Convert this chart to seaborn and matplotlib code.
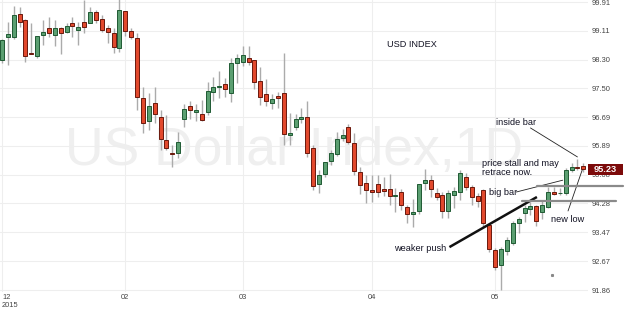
import numpy as np
import pandas as pd
import matplotlib
matplotlib.use("Agg")
import matplotlib.pyplot as plt
from matplotlib.patches import Rectangle
import seaborn as sns

# ---------------- data ----------------
opens = [
    98.29, 98.93, 98.93, 99.57, 99.41, 98.49, 98.40, 98.99, 99.18, 98.99,
    99.18, 99.07, 99.32, 99.13, 99.35, 99.32, 99.63, 99.43, 99.18, 99.04,
    98.62, 99.66, 99.10, 98.90, 97.23, 96.58, 97.09, 96.70, 96.05, 95.69,
    95.69, 96.64, 97.00, 96.84, 96.78, 96.84, 97.39, 97.53, 97.62, 97.37,
    98.21, 98.23, 98.35, 98.29, 97.70, 97.34, 97.09, 97.28, 97.37, 96.19,
    96.42, 96.64, 96.70, 95.83, 94.82, 95.10, 95.47, 95.66, 96.11, 96.42,
    95.97, 95.16, 94.85, 94.66, 94.82, 94.68, 94.68, 94.49, 94.60, 94.18,
    93.99, 94.07, 94.85, 94.93, 94.57, 94.52, 94.07, 94.52, 94.60, 95.02,
    94.74, 94.49, 94.66, 93.68, 92.98, 92.56, 92.95, 93.17, 93.73, 94.01,
    94.12, 94.21, 94.04, 94.18, 94.60, 94.56, 94.57, 95.21, 95.30, 95.32,
]
highs = [
    98.88, 99.35, 99.80, 99.77, 99.43, 99.32, 98.97, 99.41, 99.49, 99.41,
    99.21, 99.32, 99.49, 99.35, 99.97, 99.77, 99.69, 99.55, 99.27, 99.18,
    100.00, 99.67, 99.18, 99.04, 97.53, 97.37, 97.53, 96.89, 96.75, 95.91,
    96.28, 97.06, 97.14, 97.06, 97.17, 97.67, 97.81, 97.98, 97.79, 98.35,
    98.46, 98.68, 98.68, 98.30, 98.09, 97.76, 97.34, 97.39, 98.48, 96.81,
    96.78, 96.95, 97.14, 95.91, 95.21, 95.45, 95.77, 96.28, 96.36, 96.50,
    96.25, 95.30, 95.07, 95.07, 95.07, 95.02, 95.10, 94.71, 94.68, 94.24,
    94.40, 94.83, 95.24, 95.07, 94.71, 94.60, 94.66, 94.74, 95.21, 95.13,
    94.79, 94.57, 94.67, 93.69, 93.03, 93.06, 93.34, 93.79, 93.90, 94.24,
    94.32, 94.24, 94.38, 94.74, 94.74, 94.71, 95.27, 95.41, 95.52, 95.41,
]
lows = [
    98.20, 98.15, 98.88, 99.21, 98.23, 98.46, 98.35, 98.71, 98.93, 98.68,
    98.46, 99.04, 98.93, 98.71, 99.04, 99.32, 99.32, 99.07, 98.76, 98.48,
    98.51, 98.96, 98.88, 96.89, 96.25, 96.33, 96.53, 95.77, 95.77, 95.30,
    95.55, 96.42, 96.64, 96.58, 96.58, 96.75, 97.14, 97.23, 97.25, 97.11,
    97.65, 98.12, 98.15, 97.48, 97.03, 97.00, 96.92, 96.95, 95.91, 95.91,
    96.33, 96.53, 95.58, 94.66, 94.57, 95.02, 95.35, 95.61, 96.02, 95.94,
    95.07, 94.54, 94.29, 94.32, 94.46, 94.49, 94.24, 94.04, 94.10, 93.73,
    93.62, 93.99, 94.66, 94.46, 94.38, 93.87, 93.87, 94.15, 94.38, 94.66,
    94.24, 94.18, 93.62, 92.92, 92.42, 91.86, 92.84, 93.12, 93.45, 93.76,
    93.96, 93.65, 93.85, 94.15, 94.52, 94.52, 94.52, 95.16, 95.21, 95.16,
]
closes = [
    98.85, 99.02, 99.55, 99.35, 98.40, 98.47, 98.96, 99.07, 99.04, 99.18,
    99.04, 99.24, 99.24, 99.21, 99.21, 99.63, 99.41, 99.13, 99.07, 98.65,
    99.69, 99.10, 98.93, 97.25, 96.53, 97.00, 96.78, 96.08, 95.83, 95.66,
    96.00, 96.92, 96.89, 96.89, 96.61, 97.42, 97.53, 97.56, 97.48, 98.21,
    98.35, 98.43, 98.23, 97.67, 97.25, 97.14, 97.20, 97.23, 96.22, 96.25,
    96.64, 96.70, 95.69, 94.77, 95.07, 95.44, 95.69, 96.08, 96.19, 96.00,
    95.19, 94.79, 94.66, 94.60, 94.60, 94.63, 94.49, 94.52, 94.24, 93.99,
    94.04, 94.82, 94.93, 94.68, 94.46, 94.07, 94.57, 94.63, 95.13, 94.74,
    94.46, 94.35, 93.73, 93.01, 92.50, 93.01, 93.26, 93.73, 93.85, 94.15,
    94.21, 93.79, 94.24, 94.60, 94.54, 94.58, 95.21, 95.30, 95.28, 95.23,
]

month_labels = ["12\n2015", "02", "03", "04", "05"]
month_pos = [0, 21, 41, 63, 84]
price_ticks = [91.86, 92.67, 93.47, 94.28, 95.08, 95.89, 96.69, 97.50, 98.30, 99.11, 99.91]
last_price = 95.23

# ---------------- style ----------------
sns.set_style("white")
plt.rcParams['font.family'] = ['Liberation Sans', 'DejaVu Sans']

df = pd.DataFrame({"open": opens, "high": highs, "low": lows, "close": closes})
df["idx"] = np.arange(len(df))
df["up"] = df["close"] >= df["open"]
df["bottom"] = df[["open", "close"]].min(axis=1)
df["height"] = (df["close"] - df["open"]).abs().clip(lower=0.015)

GREEN, GREEN_EDGE = "#5b9f71", "#1f5a33"
RED, RED_EDGE = "#e2492d", "#6a180c"

fig = plt.figure(figsize=(6.25, 3.11), dpi=100)
ax = fig.add_axes([0, 19 / 311, 588 / 625, 292 / 311])

# watermark
ax.text(49.7, 95.35, "US Dollar Index,1D", fontsize=38.5, color="#efefef",
        ha="center", va="baseline", zorder=0.5)

# wicks
ax.vlines(df["idx"], df["low"], df["high"], color="#ababab", lw=1.0, zorder=2)
# bodies
colors = np.where(df["up"], GREEN, RED)
edges = np.where(df["up"], GREEN_EDGE, RED_EDGE)
ax.bar(df["idx"], df["height"], bottom=df["bottom"], width=0.68,
       color=colors, edgecolor=edges, linewidth=0.7, zorder=3)

ax.set_xlim(-0.34, 99.8)
ax.set_ylim(91.805, 99.966)

# axes / ticks
ax.yaxis.tick_right()
ax.set_yticks(price_ticks)
ax.set_yticklabels([f"{t:.2f}" for t in price_ticks])
ax.tick_params(axis="y", length=0, pad=2.5, labelsize=5.4, labelcolor="#444444")
ax.set_xticks(month_pos)
ax.set_xticklabels(month_labels)
ax.tick_params(axis="x", length=0, pad=1.5, labelsize=5.4, labelcolor="#444444")
first = ax.get_xticklabels()[0]
first.set_ha("left")
first.set_multialignment("left")
for s in ax.spines.values():
    s.set_visible(False)
ax.grid(True, color="#eeeeee", lw=0.8)
ax.set_axisbelow(True)

# annotations
tkw = dict(fontsize=6.6, color="#111122", zorder=8)
ax.text(65.6, 98.71, "USD INDEX", ha="left", va="center", **tkw)
ax.text(84.2, 96.53, "inside bar", ha="left", va="center", **tkw)
ax.plot([90.0, 98.0], [96.39, 95.58], color="#222222", lw=0.6, zorder=8)
ax.text(81.8, 95.27, "price stall and may\nretrace now.", ha="left", va="center",
        linespacing=1.1, **tkw)
ax.text(83.0, 94.59, "big bar", ha="left", va="center", **tkw)
ax.plot([87.6, 95.5], [94.60, 94.93], color="#222222", lw=0.6, zorder=8)
ax.text(93.5, 93.82, "new low", ha="left", va="center", **tkw)
ax.plot([96.4, 98.8], [94.07, 95.21], color="#222222", lw=0.6, zorder=8)
ax.text(66.8, 93.02, "weaker push", ha="left", va="center", **tkw)
ax.plot([76.2, 91.1], [93.06, 94.46], color="#111111", lw=1.8,
        solid_capstyle="butt", zorder=8)
ax.plot([93.7], [92.28], marker="s", ms=1.2, color="#888888", zorder=8)

# gray horizontal levels
ax.plot([91.1, 105.8], [94.78, 94.78], color="#8a8a8a", lw=1.6, clip_on=False, zorder=9)
ax.plot([88.6, 104.6], [94.36, 94.36], color="#8a8a8a", lw=1.6, clip_on=False, zorder=9)

# last price box
box_h = 0.32
ax.add_patch(Rectangle((1.0, last_price - box_h / 2), 35 / 588, box_h,
                       transform=ax.get_yaxis_transform(), facecolor="#7c0a0a",
                       edgecolor="none", clip_on=False, zorder=10))
ax.text(1.0 + 17.5 / 588, last_price, f"{last_price:.2f}",
        transform=ax.get_yaxis_transform(), ha="center", va="center",
        color="white", fontsize=6.6, fontweight="bold", clip_on=False, zorder=11)

fig.savefig("out.png", dpi=100)
